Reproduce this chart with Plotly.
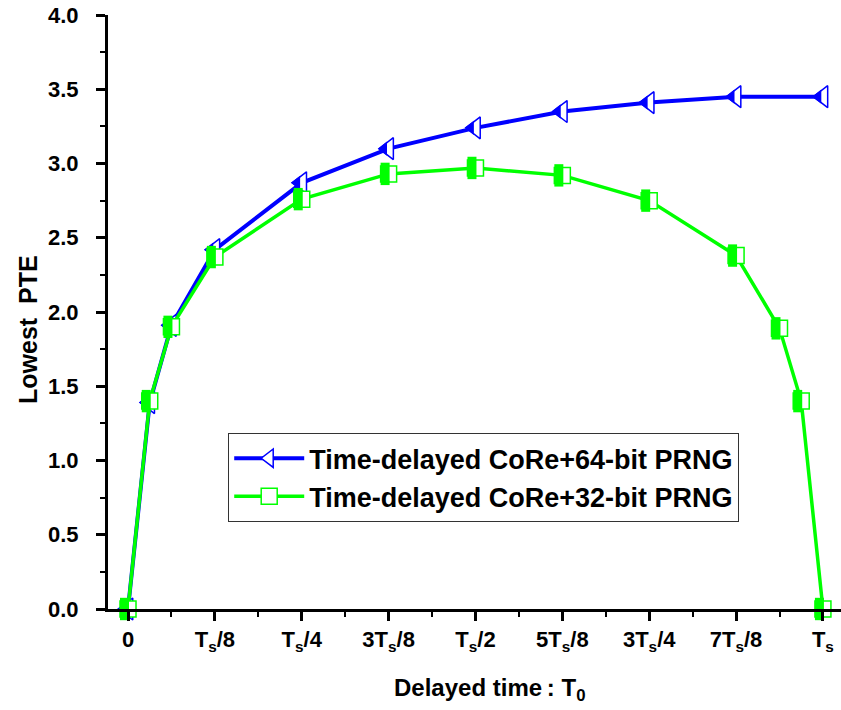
import plotly.graph_objects as go

# ---- data (x in units of Ts) ----
x_blue = [0, 1/32, 1/16, 1/8, 1/4, 3/8, 1/2, 5/8, 3/4, 7/8, 1]
y_blue = [0.0, 1.39, 1.91, 2.42, 2.87, 3.10, 3.24, 3.35, 3.41, 3.45, 3.45]

x_green = [0, 1/32, 1/16, 1/8, 1/4, 3/8, 1/2, 5/8, 3/4, 7/8, 15/16, 31/32, 1]
y_green = [0.0, 1.40, 1.90, 2.37, 2.76, 2.93, 2.97, 2.92, 2.75, 2.38, 1.89, 1.40, 0.0]

tick_vals = [0, 1/8, 2/8, 3/8, 4/8, 5/8, 6/8, 7/8, 1]
tick_text = ["0", "T<sub>s</sub>/8", "T<sub>s</sub>/4", "3T<sub>s</sub>/8", "T<sub>s</sub>/2",
             "5T<sub>s</sub>/8", "3T<sub>s</sub>/4", "7T<sub>s</sub>/8", "T<sub>s</sub>"]

name_blue = "Time-delayed CoRe+64-bit PRNG"
name_green = "Time-delayed CoRe+32-bit PRNG"
x_title = "Delayed time\u2009: T<sub>0</sub>"
y_title = "Lowest\u00a0\u00a0PTE"

BLUE = "#0000FF"
GREEN = "#00FF00"
FONT = "Liberation Sans, Arial, sans-serif"

fig = go.Figure()

# blue series: line + open triangle
fig.add_trace(go.Scatter(
    x=x_blue, y=y_blue, mode="lines+markers", name=name_blue,
    line=dict(color=BLUE, width=4),
    marker=dict(symbol="triangle-left", size=19, color="white",
                line=dict(color=BLUE, width=1.5)),
    cliponaxis=False,
))
# blue half fill
fig.add_trace(go.Scatter(
    x=x_blue, y=y_blue, mode="markers", showlegend=False, hoverinfo="skip",
    marker=dict(symbol="triangle-down", angle=90, standoff=4.7, size=12.4,
                color=BLUE, line=dict(width=0)),
    cliponaxis=False,
))
# green series: line + open square
fig.add_trace(go.Scatter(
    x=x_green, y=y_green, mode="lines+markers", name=name_green,
    line=dict(color=GREEN, width=3.5),
    marker=dict(symbol="square", size=16, color="white",
                line=dict(color=GREEN, width=1.5)),
    cliponaxis=False,
))
# green half fill
fig.add_trace(go.Scatter(
    x=x_green, y=y_green, mode="markers", showlegend=False, hoverinfo="skip",
    marker=dict(symbol="line-ew", angle=90, standoff=3.5, size=16,
                color=GREEN, line=dict(color=GREEN, width=9)),
    cliponaxis=False,
))

fig.update_layout(
    width=841, height=710,
    margin=dict(l=108, r=0, t=15, b=101),
    paper_bgcolor="white", plot_bgcolor="white",
    font=dict(family=FONT, color="black"),
    legend=dict(
        x=0.164, y=0.296, xanchor="left", yanchor="top",
        bgcolor="white", bordercolor="#333333", borderwidth=1,
        font=dict(size=27, weight="bold", family=FONT),
        tracegroupgap=0, itemwidth=70,
    ),
    annotations=[
        dict(text=x_title, xref="paper", yref="paper", x=(490 - 108) / 733, y=-(690 - 609) / 594,
             xanchor="center", yanchor="middle", showarrow=False,
             font=dict(size=24, weight="bold", family=FONT)),
        dict(text=y_title, xref="paper", yref="paper", x=-(108 - 28) / 733, y=(609 - 330) / 594,
             xanchor="center", yanchor="middle", showarrow=False, textangle=-90,
             font=dict(size=25, weight="bold", family=FONT)),
    ],
)

fig.update_xaxes(
    range=[-0.0288, 1.026],
    showline=True, linecolor="black", linewidth=3, mirror=False,
    showgrid=False, zeroline=False,
    ticks="outside", ticklen=9, tickwidth=3, tickcolor="black",
    tickvals=tick_vals, ticktext=tick_text,
    tickfont=dict(size=22, weight="bold", family="Liberation Sans Narrow, Liberation Sans, Arial"),
    minor=dict(ticks="outside", ticklen=5, tickwidth=2, tickcolor="black",
               tick0=0, dtick=1/16),
    automargin=False,
)
fig.update_yaxes(
    range=[0, 4],
    showline=True, linecolor="black", linewidth=3, mirror=False,
    showgrid=False, zeroline=False,
    ticks="outside", ticklen=9, tickwidth=3, tickcolor="black",
    dtick=0.5, tick0=0, tickformat=".1f",
    tickfont=dict(size=22, weight="bold", family=FONT),
    ticklabelstandoff=13,
    minor=dict(ticks="outside", ticklen=5, tickwidth=2, tickcolor="black",
               tick0=0, dtick=0.25),
    automargin=False,
)

fig.write_html("out.html")
